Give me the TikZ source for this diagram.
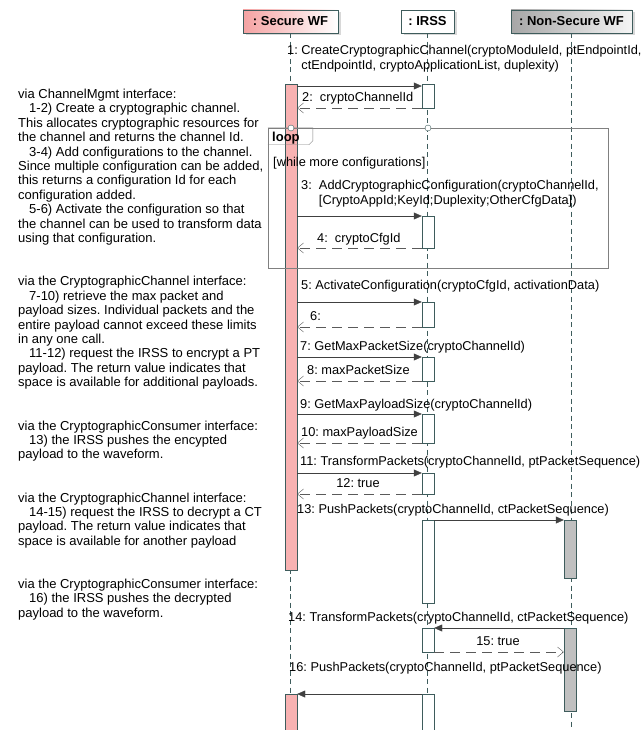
\documentclass[tikz,border=0pt]{standalone}
\usepackage{fontspec}
\setmainfont{Liberation Sans}
\usetikzlibrary{arrows.meta,shadows}
\definecolor{secpink}{HTML}{F8B2B2}
\definecolor{hdpink}{HTML}{F4A2A2}
\definecolor{slate}{HTML}{3E5C5C}
\definecolor{nsgray}{HTML}{A6A6A6}
\definecolor{actgray}{HTML}{C0C0C0}
\definecolor{framegray}{HTML}{808080}
\definecolor{retgray}{HTML}{5A5A5A}
\newcommand\txt{\fontsize{13}{14.4}\selectfont\frenchspacing}
\newcommand\lbtxt{\fontsize{12.8}{14.6}\selectfont\frenchspacing}
\newcommand\ind{\hspace*{11pt}}

\begin{document}
\begin{tikzpicture}[x=1pt,y=-1pt,
          hd/.style={draw=slate, inner sep=0pt, minimum height=23pt, font=\txt\bfseries,
                     drop shadow={shadow xshift=2.5pt, shadow yshift=-2.5pt, fill=black!30}},
          act/.style={draw=slate, inner sep=0pt, minimum width=12pt, fill=white},
          life/.style={slate, dash pattern=on 5pt off 3.5pt},
          msg/.style={draw=black!75, -{Triangle[length=8pt,width=7pt]}},
          ret/.style={draw=retgray, dash pattern=on 10pt off 6pt,
                      -{Straight Barb[length=6pt,width=10pt]}},
          lb/.style={anchor=base west, inner sep=0pt, font=\lbtxt, align=left},
          nt/.style={anchor=base west, inner sep=0pt, font=\txt, align=left}]
        \useasboundingbox (0,0) rectangle (642,730);
        % lifelines
        \node[hd, left color=hdpink, right color=white, minimum width=95pt] (sw) at (290.5,21.5) {: Secure WF};
        \node[hd, fill=white, minimum width=53pt] (ir) at (427.5,21.5) {: IRSS};
        \node[hd, left color=nsgray, right color=gray!8, minimum width=121pt] (ns) at (571.5,21.5) {: Non-Secure WF};
        \draw[life] (sw.south) -- (sw.south |- 0,730);
        \draw[life] (ir.south) -- (ir.south |- 0,730);
        \draw[life] (ns.south) -- (ns.south |- 0,730);
        % activations
        \node[act, fill=secpink, minimum height=486pt] (sa1) at (291,327) {};
        \node[act, fill=secpink, minimum height=38pt] (sa2) at (291,713) {};
        \node[act, minimum height=24pt] (ia1) at (428,96) {};
        \node[act, minimum height=32pt] (ia2) at (428,232) {};
        \node[act, minimum height=25pt] (ia3) at (428,314.5) {};
        \node[act, minimum height=24pt] (ia4) at (428,369) {};
        \node[act, minimum height=29pt] (ia5) at (428,428.5) {};
        \node[act, minimum height=21pt] (ia6) at (428,483.5) {};
        \node[act, minimum height=83pt] (ia7) at (428,561.5) {};
        \node[act, minimum height=24pt] (ia8) at (428,640) {};
        \node[act, minimum height=38pt] (ia9) at (428,713) {};
        \node[act, fill=actgray, minimum height=58pt] (na1) at (570,549) {};
        \node[act, fill=actgray, minimum height=83pt] (na2) at (570,669.5) {};
        % loop fragment
        \node[draw=framegray, inner sep=0pt, minimum width=340pt, minimum height=140pt] (lp) at (438,198) {};
        \draw[framegray] (lp.north west) -- ++(45,0) -- ++(0,13) -- ++(-4,4) -- ++(-41,0);
        \node[lb, font=\txt\bfseries] (lpt) at (272,142) {loop};
        \node[circle, draw=slate, fill=white, inner sep=0pt, minimum size=6pt] (g1) at (291,128) {};
        \node[circle, draw=slate, fill=white, inner sep=0pt, minimum size=6pt] (g2) at (428,128) {};
        \node[lb] (gd) at (273,167) {[while more configurations]};
        % messages
        \node[lb] (l1) at (287,69.5) {1:\ CreateCryptographicChannel(cryptoModuleId, ptEndpointId,\\\hphantom{1:\ }ctEndpointId, cryptoApplicationList, duplexity)};
        \draw[msg] (sa1.east |- 0,86) -- (ia1.west |- 0,86);
        \node[lb] (l2) at (302,101.5) {2:\ \ cryptoChannelId};
        \draw[ret] (ia1.west |- 0,108) -- (sa1.east |- 0,108);
        \node[lb] (l3) at (301,204.5) {3:\ \ AddCryptographicConfiguration(cryptoChannelId,\\\hphantom{3:\ \ }[CryptoAppId;KeyId;Duplexity;OtherCfgData])};
        \draw[msg] (sa1.east |- 0,216) -- (ia2.west |- 0,216);
        \node[lb] (l4) at (317,242.5) {4:\ \ cryptoCfgId};
        \draw[ret] (ia2.west |- 0,248) -- (sa1.east |- 0,248);
        \node[lb] (l5) at (301,289.5) {5:\ ActivateConfiguration(cryptoCfgId, activationData)};
        \draw[msg] (sa1.east |- 0,302) -- (ia3.west |- 0,302);
        \node[lb] (l6) at (310,320.5) {6:};
        \draw[ret] (ia3.west |- 0,327) -- (sa1.east |- 0,327);
        \node[lb] (l7) at (300,350.5) {7:\ GetMaxPacketSize(cryptoChannelId)};
        \draw[msg] (sa1.east |- 0,357) -- (ia4.west |- 0,357);
        \node[lb] (l8) at (307,374.5) {8:\ maxPacketSize};
        \draw[ret] (ia4.west |- 0,381) -- (sa1.east |- 0,381);
        \node[lb] (l9) at (300,408.5) {9:\ GetMaxPayloadSize(cryptoChannelId)};
        \draw[msg] (sa1.east |- 0,414) -- (ia5.west |- 0,414);
        \node[lb] (l10) at (301,436.5) {10:\ maxPayloadSize};
        \draw[ret] (ia5.west |- 0,443) -- (sa1.east |- 0,443);
        \node[lb] (l11) at (300,465.5) {11:\ TransformPackets(cryptoChannelId, ptPacketSequence)};
        \draw[msg] (sa1.east |- 0,473) -- (ia6.west |- 0,473);
        \node[lb, anchor=base] (l12) at (358,487.5) {12:\ true};
        \draw[ret] (ia6.west |- 0,494) -- (sa1.east |- 0,494);
        \node[lb] (l13) at (297,513.5) {13:\ PushPackets(cryptoChannelId, ctPacketSequence)};
        \draw[msg] (ia7.east |- 0,520) -- (na1.west |- 0,520);
        \node[lb] (l14) at (288,621.5) {14:\ TransformPackets(cryptoChannelId, ctPacketSequence)};
        \draw[msg] (na2.west |- 0,628) -- (ia8.east |- 0,628);
        \node[lb, anchor=base] (l15) at (498,645.5) {15:\ true};
        \draw[ret] (ia8.east |- 0,652) -- (na2.west |- 0,652);
        \node[lb] (l16) at (289,671.5) {16:\ PushPackets(cryptoChannelId, ptPacketSequence)};
        \draw[msg] (ia9.west |- 0,694) -- (sa2.east |- 0,694);
        % notes (placed by the baseline of their last line)
        \node[nt] (n1) at (18,242.5) {via ChannelMgmt interface:\\
          \ind 1-2) Create a cryptographic channel.\\
          This allocates cryptographic resources for\\
          the channel and returns the channel Id.\\
          \ind 3-4) Add configurations to the channel.\\
          Since multiple configuration can be added,\\
          this returns a configuration Id for each\\
          configuration added.\\
          \ind 5-6) Activate the configuration so that\\
          the channel can be used to transform data\\
          using that configuration.};
        \node[nt] (n2) at (18,386.6) {via the CryptographicChannel interface:\\
          \ind 7-10) retrieve the max packet and\\
          payload sizes. Individual packets and the\\
          entire payload cannot exceed these limits\\
          in any one call.\\
          \ind 11-12) request the IRSS to encrypt a PT\\
          payload. The return value indicates that\\
          space is available for additional payloads.};
        \node[nt] (n3) at (18,458.8) {via the CryptographicConsumer interface:\\
          \ind 13) the IRSS pushes the encypted\\
          payload to the waveform.};
        \node[nt] (n4) at (18,545.2) {via the CryptographicChannel interface:\\
          \ind 14-15) request the IRSS to decrypt a CT\\
          payload. The return value indicates that\\
          space is available for another payload};
        \node[nt] (n5) at (18,617.3) {via the CryptographicConsumer interface:\\
          \ind 16) the IRSS pushes the decrypted\\
          payload to the waveform.};
      \end{tikzpicture}
\end{document}
